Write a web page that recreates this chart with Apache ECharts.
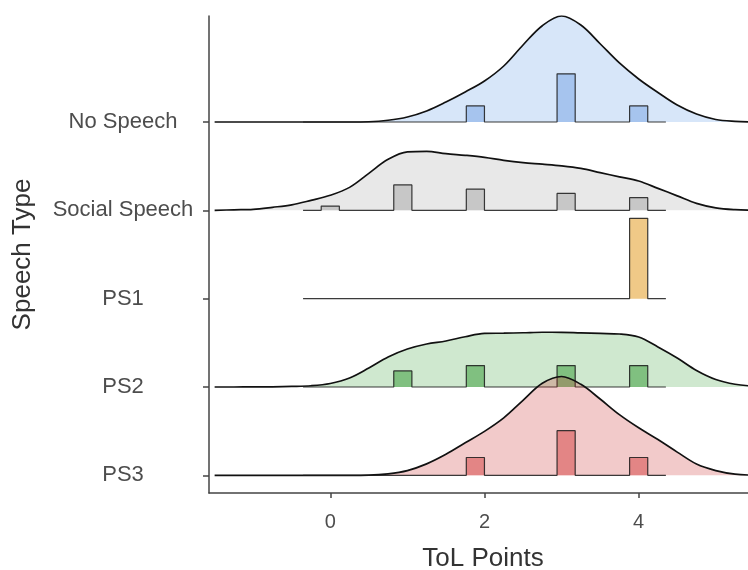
<!DOCTYPE html>
<html>
<head>
<meta charset="utf-8">
<script src="https://cdn.jsdelivr.net/npm/echarts@6/dist/echarts.min.js"></script>
<style>
  html, body { margin: 0; padding: 0; background: #ffffff; }
  #chart { width: 748px; height: 570px; }
</style>
</head>
<body>
<div id="chart"></div>
<script>
// ---- data ----
// ridge rows, bottom (0) to top (4)
const rowNames = ['PS3', 'PS2', 'PS1', 'Social Speech', 'No Speech'];
const xTickValues = [0, 2, 4];
const yTickValues = [0, 1, 2, 3, 4];

// density curves: x grid and ridge heights (in row-spacing units)
const densX = [-1.5,-1.25,-1,-0.75,-0.5,-0.25,0,0.25,0.5,0.75,1,1.25,1.5,1.75,2,2.25,2.5,2.75,3,3.25,3.5,3.75,4,4.25,4.5,4.75,5,5.25,5.5];
const noSpeechDens = [0,0,0,0,0,0,0,0,0.003,0.02,0.057,0.125,0.226,0.34,0.464,0.634,0.872,1.09,1.2,1.098,0.886,0.668,0.487,0.334,0.192,0.09,0.028,0.007,0];
const socialDens   = [0,0.006,0.011,0.034,0.062,0.113,0.17,0.26,0.419,0.577,0.662,0.668,0.641,0.623,0.6,0.566,0.54,0.523,0.504,0.475,0.427,0.379,0.332,0.249,0.164,0.079,0.028,0.007,0];
const ps1Dens      = null;
const ps2Dens      = [0,0,0.001,0.002,0.006,0.014,0.04,0.102,0.215,0.34,0.43,0.487,0.521,0.569,0.606,0.609,0.614,0.62,0.619,0.612,0.606,0.6,0.566,0.453,0.328,0.187,0.085,0.031,0.009];
const ps3Dens      = [0,0,0,0,0,0,0,0,0.002,0.017,0.054,0.13,0.238,0.368,0.498,0.651,0.849,1.042,1.119,1.03,0.864,0.687,0.538,0.405,0.263,0.128,0.054,0.014,0.002];

// histogram: bin centres holding ToL points 0..4, counts per row
const binCenters = [0, 0.941, 1.882, 3.059, 4.0];
const binWidth = 0.2353;
const histRange = [-0.353, 4.353];
const noSpeechCounts = [0, 0, 1, 3, 1];
const socialCounts   = [1, 6, 5, 4, 3];
const ps1Counts      = [0, 0, 0, 0, 1];
const ps2Counts      = [0, 3, 4, 4, 4];
const ps3Counts      = [0, 0, 2, 5, 2];
const histScale = 0.214; // ridge units per unit of density

// ---- styles ----
const FONT = 'Liberation Sans, Arial, Helvetica, sans-serif';
const rows = [
  { base: 4, dens: noSpeechDens, counts: noSpeechCounts, fill: 'rgba(45,120,225,0.19)', bar: '#a6c4ee' },
  { base: 3, dens: socialDens,   counts: socialCounts,   fill: 'rgba(140,140,140,0.2)', bar: '#c7c7c7' },
  { base: 2, dens: ps1Dens,      counts: ps1Counts,      fill: 'rgba(230,160,40,0.2)', bar: '#f0c987' },
  { base: 1, dens: ps2Dens,      counts: ps2Counts,      fill: 'rgba(55,160,55,0.24)', bar: '#80c080' },
  { base: 0, dens: ps3Dens,      counts: ps3Counts,      fill: 'rgba(205,45,45,0.25)', bar: '#e38585' }
];

function histPoints(base, counts) {
  const n = counts.reduce((a, b) => a + b, 0);
  const pts = [[histRange[0], base]];
  counts.forEach((c, i) => {
    if (c > 0) {
      const h = c / (n * binWidth) * histScale;
      const l = binCenters[i] - binWidth / 2, r = binCenters[i] + binWidth / 2;
      pts.push([l, base], [l, base + h], [r, base + h], [r, base]);
    }
  });
  pts.push([histRange[1], base]);
  return pts;
}

const series = [];
rows.forEach((row, k) => {
  if (row.dens) {
    series.push({
      type: 'line',
      data: densX.map((x, i) => [x, row.base + row.dens[i]]),
      smooth: 0.35,
      symbol: 'none',
      lineStyle: { color: '#111', width: 1.7 },
      areaStyle: { color: row.fill, opacity: 1, origin: row.base },
      z: 2 + k * 2,
      silent: true
    });
  }
  series.push({
    type: 'line',
    data: histPoints(row.base, row.counts),
    symbol: 'none',
    lineStyle: { color: 'rgba(25,25,25,0.85)', width: 1.2 },
    areaStyle: { color: row.bar, opacity: 1, origin: row.base },
    z: 3 + k * 2,
    silent: true
  });
});

const chart = echarts.init(document.getElementById('chart'), null, { renderer: 'canvas' });
chart.setOption({
  animation: false,
  backgroundColor: '#ffffff',
  grid: { left: 209, right: 0, top: 16, bottom: 77, containLabel: false, outerBoundsMode: 'none' },
  xAxis: {
    type: 'value',
    min: -1.573,
    max: 5.418,
    splitLine: { show: false },
    axisLine: { onZero: false, lineStyle: { color: '#444', width: 1.5 } },
    axisTick: { customValues: xTickValues, length: 5, lineStyle: { color: '#444', width: 1.5 } },
    axisLabel: { customValues: xTickValues, fontSize: 20, color: '#4d4d4d', margin: 19, fontFamily: FONT },
    name: 'ToL Points',
    nameLocation: 'middle',
    nameGap: 53,
    nameTextStyle: { fontSize: 26, color: '#333', fontFamily: FONT, padding: [0, 0, 0, 9] }
  },
  yAxis: {
    type: 'value',
    min: -0.2,
    max: 5.2,
    splitLine: { show: false },
    axisLine: { onZero: false, lineStyle: { color: '#444', width: 1.5 } },
    axisTick: { customValues: yTickValues, length: 6, lineStyle: { color: '#444', width: 1.5 } },
    axisLabel: {
      customValues: yTickValues,
      formatter: v => rowNames[Math.round(v)],
      align: 'center',
      margin: 86,
      fontSize: 22,
      color: '#4d4d4d',
      fontFamily: FONT
    },
    name: 'Speech Type',
    nameLocation: 'middle',
    nameGap: 173,
    nameTextStyle: { fontSize: 26, color: '#333', fontFamily: FONT }
  },
  series: series
});
</script>
</body>
</html>
